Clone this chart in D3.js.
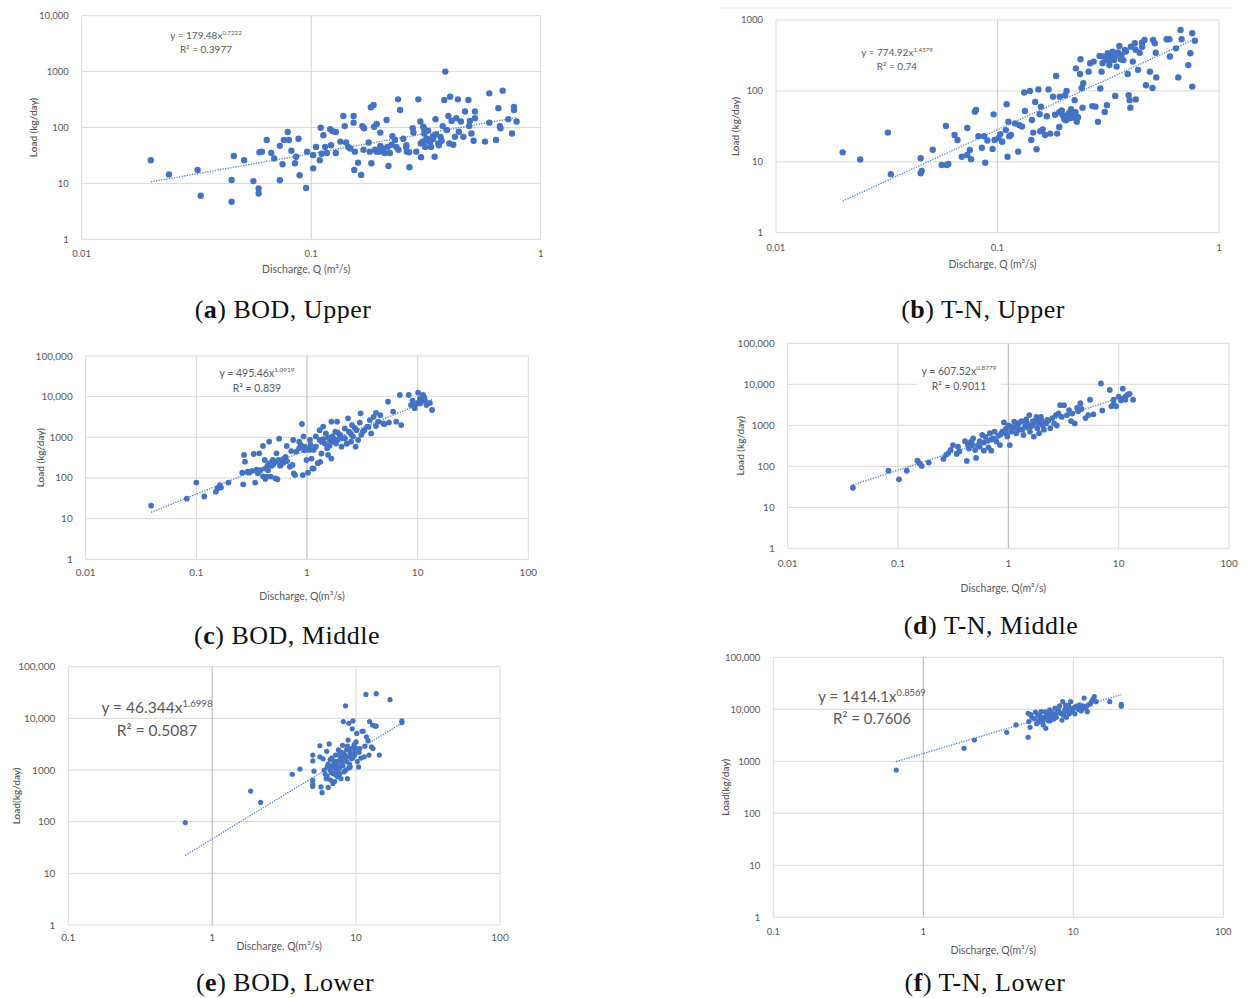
<!DOCTYPE html>
<html>
<head>
<meta charset="utf-8">
<script src="https://cdn.jsdelivr.net/npm/d3@7"></script>
<style>
  body { margin: 0; background: #fff; }
  svg { display: block; }
  .tick-label { font-family: Lato, "Open Sans", sans-serif; font-size: 9.5px; fill: #595959; }
  .axis-title { font-family: Lato, "Open Sans", sans-serif; fill: #595959; }
  .eq { font-family: Lato, "Open Sans", sans-serif; fill: #595959; }
  .caption { font-family: "Liberation Serif", "DejaVu Serif", serif; font-size: 26px; letter-spacing: 0.5px; fill: #111; }
</style>
</head>
<body>
<div id="chart"></div>
<script>
// ---- data: [discharge m3/s, load kg/day] ----
const bodUpper = [[0.02,26],[0.024,14.5],[0.032,17.4],[0.033,6],[0.045,11.5],[0.045,4.7],[0.046,31],[0.051,26],[0.056,11],[0.059,8.1],[0.059,6.6],[0.0595,36],[0.061,37],
  [0.064,60],[0.067,35],[0.069,28],[0.073,47],[0.073,11.4],[0.075,22],[0.076,60],[0.079,83],[0.08,60],[0.082,38.5],[0.085,23],[0.086,30],[0.088,63],[0.089,14],[0.095,8.3],
  [0.096,37],[0.102,32],[0.102,18.6],[0.105,45],[0.109,26],[0.11,99],[0.111,34],[0.113,73],[0.115,45],[0.117,35],[0.121,93],[0.122,48],[0.124,86],[0.128,35],[0.128,83],
  [0.134,56],[0.138,161],[0.14,106],[0.142,54],[0.145,45],[0.148,42],[0.153,161],[0.153,122],[0.154,17.4],[0.155,37],[0.16,23.5],[0.165,14.2],[0.167,106],[0.169,40],
  [0.17,97],[0.178,54],[0.18,37],[0.182,230],[0.183,23],[0.187,253],[0.188,103],[0.193,116],[0.193,37],[0.198,37],[0.2,81],[0.204,42],[0.209,35],[0.213,136],[0.215,45],
  [0.217,20.5],[0.22,35],[0.224,49],[0.226,70],[0.232,60],[0.235,45],[0.239,319],[0.244,206],[0.252,63],[0.259,45],[0.261,37],[0.267,36],[0.268,19.4],[0.277,97],
  [0.279,81],[0.287,37],[0.293,319],[0.299,128],[0.301,29.5],[0.306,56],[0.308,103],[0.311,78],[0.314,45],[0.318,64],[0.323,88],[0.329,60],[0.333,45],[0.339,70],
  [0.345,30],[0.348,141],[0.358,52],[0.366,68],[0.374,106],[0.38,310],[0.384,1000],[0.39,90],[0.396,161],[0.4,52],[0.403,356],[0.409,131],[0.416,49],[0.423,68],
  [0.429,146],[0.436,319],[0.44,84],[0.449,128],[0.46,68],[0.468,193],[0.484,310],[0.488,106],[0.491,131],[0.499,78],[0.51,58],[0.517,193],[0.517,146],[0.572,56],
  [0.597,408],[0.597,122],[0.639,60],[0.654,222],[0.664,106],[0.668,97],[0.683,456],[0.723,141],[0.75,78],[0.765,233],[0.765,206],[0.785,128],
  [0.3,52],[0.32,58],[0.34,62],[0.36,48],[0.31,95],[0.33,55],[0.35,75],[0.37,58],[0.26,48],[0.24,40],[0.19,40],[0.2,47]];

const tnUpper = [[0.02,13.6],[0.024,10.8],[0.032,25.8],[0.033,6.7],[0.045,11.2],[0.045,6.9],[0.0455,7.4],[0.051,14.8],[0.056,9],[0.0585,32],[0.059,9],[0.06,9.3],
  [0.064,23.9],[0.066,20.3],[0.069,11.8],[0.073,30],[0.073,12.5],[0.075,14.7],[0.076,10.9],[0.079,51],[0.08,54],[0.082,23],[0.085,15.8],[0.087,23],[0.088,9.7],
  [0.09,20],[0.095,15.2],[0.096,46.7],[0.097,20.3],[0.101,21.5],[0.103,24.6],[0.105,19.2],[0.109,28],[0.11,65],[0.111,11.8],[0.112,36.8],[0.113,23],[0.115,24],
  [0.12,34.8],[0.124,13.9],[0.125,33],[0.129,31.5],[0.132,95],[0.133,52],[0.14,100],[0.142,20.3],[0.143,38.8],[0.145,25.8],[0.148,70],[0.15,15],[0.153,105],
  [0.155,47],[0.156,27],[0.157,60],[0.16,28.7],[0.164,23.9],[0.167,44],[0.17,105],[0.173,25],[0.178,83],[0.182,46],[0.184,162],[0.186,25],[0.19,31],[0.191,83],
  [0.195,53],[0.197,45.5],[0.202,87],[0.204,38.6],[0.205,100],[0.208,46],[0.212,41],[0.214,53],[0.218,45],[0.223,74],[0.226,208],[0.228,36.6],[0.231,42.6],
  [0.236,173],[0.237,279],[0.24,110],[0.242,58],[0.244,128],[0.258,187],[0.262,245],[0.268,61],[0.272,259],[0.277,60],[0.284,36.6],[0.289,311],[0.291,108],
  [0.295,187],[0.298,245],[0.3,305],[0.305,50.6],[0.31,272],[0.312,63],[0.315,339],[0.32,231],[0.325,305],[0.331,357],[0.336,272],[0.34,85],[0.345,220],
  [0.355,430],[0.363,320],[0.37,272],[0.376,377],[0.387,173],[0.391,87],[0.395,74],[0.398,58],[0.4,421],[0.408,259],[0.417,469],[0.421,75.6],[0.431,198],
  [0.438,346],[0.449,478],[0.461,522],[0.468,120],[0.488,187],[0.501,110],[0.504,522],[0.513,469],[0.518,346],[0.521,155],[0.58,534],[0.597,534],[0.6,305],
  [0.639,398],[0.655,155],[0.67,722],[0.678,534],[0.727,231],[0.742,340],[0.757,649],[0.757,115],[0.778,511],
  [0.21,48],[0.215,55],[0.22,42],[0.225,50],[0.2,40],[0.19,50],[0.31,300],[0.33,290],[0.35,350],[0.32,260],[0.34,310],[0.36,280],[0.38,360],[0.42,380],[0.45,420]];

const bodMiddle = [[0.039,21],[0.082,31],[0.1,77],[0.118,35],[0.15,46],[0.156,56],[0.163,67],[0.167,58],[0.195,77],[0.26,135],[0.265,70],[0.27,368],[0.275,252],
  [0.29,143],[0.3,135],[0.33,389],[0.34,77],[0.355,143],[0.37,404],[0.38,155],[0.4,612],[0.415,277],[0.42,170],[0.43,108],[0.445,155],[0.455,782],[0.47,108],
  [0.48,200],[0.49,277],[0.505,253],[0.517,98],[0.53,404],[0.54,93],[0.55,277],[0.56,927],[0.58,209],[0.6,277],[0.61,238],[0.655,612],[0.7,190],[0.75,860],
  [0.78,118],[0.8,444],[0.85,782],[0.9,2128],[0.915,118],[0.93,1050],[0.955,590],[0.99,277],[1.02,135],[1.05,490],[1.065,860],[1.1,300],[1.12,172],[1.15,490],
  [1.2,1050],[1.2,590],[1.3,1500],[1.3,860],[1.32,250],[1.35,400],[1.4,1840],[1.45,700],[1.48,1250],[1.52,540],[1.55,370],[1.6,860],[1.66,2420],[1.66,300],
  [1.7,1050],[1.8,1380],[1.83,700],[1.87,2420],[1.9,860],[1.97,1150],[2.05,590],[2.1,950],[2.2,1650],[2.28,700],[2.35,2930],[2.4,1380],[2.5,780],[2.55,2000],
  [2.6,1050],[2.75,590],[2.8,1500],[2.9,860],[3.0,2300],[3.05,3900],[3.1,1150],[3.3,1500],[3.5,1840],[3.7,2650],[3.8,1250],[4.0,3200],[4.2,4000],[4.4,2420],
  [4.6,3500],[4.9,2200],[5.4,7500],[6.0,4300],[6.4,2420],[6.9,11000],[7.1,2000],[8.3,11000],[8.7,6200],[9.0,8000],[9.4,5200],[10,7000],[10.1,12500],[10.5,9000],
  [10.8,7500],[11.2,11000],[11.6,8200],[12,6200],[12.9,7000],[13.5,4700],
  [0.3,140],[0.32,150],[0.35,160],[0.36,130],[0.4,110],[0.42,95],[0.44,205],[0.46,230],[0.5,220],[0.52,250],[0.57,200],[0.62,300],[0.64,330],[0.66,260],
  [0.72,460],[0.74,210],[0.76,130],[0.85,540],[0.88,650],[0.95,480],[1.0,520],[1.08,650],[1.15,170],[1.25,230],[1.35,800],[1.4,900],[1.55,1000],[1.6,620],
  [1.7,780],[1.75,920],[1.9,1300],[2.0,1150],[2.2,950],[2.3,700],[2.5,1200],[2.7,1700],[3.2,1400],[3.6,1800],[4.2,1900],[5.0,2100],[5.5,2300],[9.5,6500],
  [10.5,6800],[11.5,9500]];

const tnMiddle = [[0.039,30],[0.082,78],[0.102,48],[0.12,78],[0.15,137],[0.156,119],[0.164,102],[0.19,123],[0.258,151],[0.273,190],[0.285,210],[0.3,250],
  [0.315,330],[0.34,200],[0.36,230],[0.405,410],[0.42,135],[0.43,330],[0.44,270],[0.465,410],[0.48,480],[0.5,250],[0.51,160],[0.53,330],[0.55,410],[0.58,580],
  [0.6,240],[0.62,520],[0.66,290],[0.68,640],[0.7,240],[0.73,480],[0.75,700],[0.78,400],[0.81,550],[0.84,330],[0.88,700],[0.91,1180],[0.95,820],[0.98,530],
  [1.0,1000],[1.03,330],[1.06,700],[1.1,880],[1.13,1220],[1.18,640],[1.22,1050],[1.27,780],[1.31,1270],[1.37,580],[1.42,990],[1.48,1110],[1.55,1780],[1.57,700],
  [1.6,930],[1.67,1270],[1.7,530],[1.8,1600],[1.83,850],[1.87,1270],[1.9,640],[1.97,1600],[2.05,1000],[2.1,780],[2.2,1110],[2.25,1350],[2.4,850],[2.5,1500],
  [2.6,1110],[2.7,1780],[2.75,990],[2.85,1940],[2.95,3100],[3.05,1600],[3.2,3100],[3.4,1780],[3.55,2350],[3.7,1270],[3.8,1940],[4.0,1110],[4.2,2650],[4.3,2200],
  [4.5,3450],[4.6,2500],[5.0,1500],[5.3,1780],[5.5,4200],[5.9,1850],[6.9,10500],[7.1,2300],[8.3,7300],[8.6,2900],[9.0,4200],[9.5,2900],[10,5000],[10.9,7800],
  [11.1,4500],[11.5,4200],[12,5500],[12.5,5800],[13.5,4200],
  [1.05,930],[1.35,800],[1.45,1400],[1.65,1000],[1.75,1200],[0.95,650],[0.7,450],[0.6,380],[0.45,380],[0.55,300],[1.2,800],[1.5,900],[2.0,1300],[11.5,5000],
  [10.5,4000],[9.0,3300],[0.35,300],[0.47,330],[0.65,420],[0.85,600],[1.15,900],[1.25,1150],[1.4,1250],[1.9,1100],[2.3,1300]];

const bodLower = [[0.65,96],[1.85,392],[2.17,237],[3.6,825],[4.07,1045],[5.0,1950],[5.0,1500],[5.1,950],[5.0,630],[5.0,530],[5.0,480],[5.6,2950],[5.6,1800],
  [5.7,470],[5.8,365],[5.9,1650],[6.1,830],[6.2,680],[6.25,2300],[6.3,1150],[6.4,460],[6.5,3200],[6.6,1000],[6.65,640],[6.75,1700],[6.9,860],[6.95,1250],[7.1,600],
  [7.2,1950],[7.3,930],[7.35,1450],[7.45,740],[7.55,2450],[7.65,1080],[7.75,1650],[7.85,680],[7.95,1250],[8.05,3000],[8.15,8650],[8.25,930],[8.4,1950],[8.45,17500],
  [8.6,1450],[8.7,680],[8.8,3800],[8.9,8000],[9.05,2250],[9.1,1150],[9.3,1650],[9.4,6300],[9.5,8900],[9.65,2750],[9.8,1950],[10,3500],[10.1,5100],[10.2,1450],
  [10.4,1150],[10.6,2600],[11,5600],[11.2,5600],[11.4,1800],[11.7,29000],[11.8,4400],[12.1,3700],[12.3,1950],[12.4,8700],[12.8,2800],[13,7400],[13.1,2600],
  [13.5,7100],[13.8,30000],[13.8,7100],[14.5,1950],[17.2,23000],[20.8,8900],[20.8,8300],
  [6.0,1000],[6.3,750],[6.8,1200],[7.0,1500],[7.2,800],[7.5,1100],[7.8,1900],[8.0,1400],[8.2,2100],[8.5,1000],[8.8,1800],[9.0,1300],[9.2,2600],[9.5,1700],
  [9.8,2400],[7.6,2000],[6.7,900],[7.3,1200],[8.3,1700],[9.7,3100],[10.5,2200],[6.9,550],[7.7,850],[8.9,1100],[10.8,1700],[11.5,2900],[6.4,1300],[7.0,1100],
  [7.9,2200],[8.6,2500],[9.3,2000],[6.6,1600],[7.4,1400],[8.1,1200],[8.7,2900],[9.9,2700]];

const tnLower = [[0.66,680],[1.87,1780],[2.19,2570],[3.6,3610],[4.15,5000],[5.0,2900],[5.0,8380],[5.05,5800],[5.15,4500],[5.3,7000],[5.5,6600],[5.7,5300],
  [5.8,7700],[5.95,6200],[6.1,9000],[6.3,5000],[6.4,7000],[6.55,4300],[6.65,8200],[6.8,6000],[6.95,9800],[7.15,6600],[7.3,7700],[7.55,10500],[7.7,7000],
  [7.95,9000],[8.1,11600],[8.4,6200],[8.5,14000],[8.6,7700],[8.8,10000],[9.0,7000],[9.3,11800],[9.4,8200],[9.6,14000],[9.8,9800],[10,10500],[10.25,8200],
  [10.5,11500],[10.8,10000],[11,12200],[11.3,9300],[11.6,11600],[11.8,16500],[12.0,10500],[12.4,9000],[12.6,12200],[13.2,14000],[13.5,15700],[13.8,17500],
  [14.2,14000],[17.5,14000],[20.9,12500],[20.9,11500],
  [5.2,7900],[5.6,8800],[5.9,5700],[6.0,7500],[6.2,6800],[6.5,8900],[6.7,7300],[7.0,6000],[7.2,8800],[7.4,6500],[7.8,8600],[8.0,9400],[8.3,8300],[8.7,8800],
  [9.1,9300],[9.5,10300],[9.9,9000],[10.3,11000],[11.5,10700],[6.3,6100],[6.9,7900],[7.6,8000],[8.9,12000],[12.2,11300],[13.0,12800]];

// fitted power trends as printed on the panels: y = a * x^b
const fitA = [179.48, 774.92, 495.46, 607.52, 46.344, 1414.1];
const fitB = ["0.7222", "1.4379", "1.0919", "0.8779", "1.6998", "0.8569"];
const fitR2 = ["0.3977", "0.74", "0.839", "0.9011", "0.5087", "0.7606"];

const captionLetters = ["a", "b", "c", "d", "e", "f"];
const captionText = [" BOD, Upper", " T-N, Upper", " BOD, Middle", " T-N, Middle", " BOD, Lower", " T-N, Lower"];

const xTicksUpper = [0.01, 0.1, 1];
const xTicksMiddle = [0.01, 0.1, 1, 10, 100];
const xTicksLower = [0.1, 1, 10, 100];
const yTicks3 = [1, 10, 100, 1000];
const yTicks4 = [1, 10, 100, 1000, 10000];
const yTicks5 = [1, 10, 100, 1000, 10000, 100000];

// layout of the six panels (page pixels)
const panels = [
  { data: bodUpper, box: [81.7, 15.7, 540.7, 239.3], xt: xTicksUpper, yt: yTicks4, axisAt: 0.1, axisCol: "#d0d0d0",
    yl: "Load (kg/day)", ylx: 33, xly: 273, xtY: 257, eq: [206, 35], eqSize: 10, r: 3.2, lab: 9.5, cap: [283, 318] },
  { data: tnUpper, box: [776, 20, 1219, 232.7], xt: xTicksUpper, yt: yTicks3, axisAt: 0.1, axisCol: "#d0d0d0",
    yl: "Load (kg/day)", ylx: 735, xly: 268, xtY: 251, eq: [897, 52], eqSize: 10, r: 3.2, lab: 9.5, cap: [983, 318] },
  { data: bodMiddle, box: [85.7, 356, 528.3, 559.3], xt: xTicksMiddle, yt: yTicks5, axisAt: 1, axisCol: "#b3b3b3",
    yl: "Load (kg/day)", ylx: 40, xly: 600, xtY: 576, eq: [257, 373], eqSize: 10.5, r: 2.9, lab: 10, cap: [287, 644] },
  { data: tnMiddle, box: [787.7, 343.3, 1229, 548.3], xt: xTicksMiddle, yt: yTicks5, axisAt: 1, axisCol: "#b3b3b3",
    yl: "Load (kg/day)", ylx: 740, xly: 592, xtY: 567, eq: [959, 371], eqSize: 10.5, r: 2.9, lab: 10, cap: [991, 634], eqBg: true },
  { data: bodLower, box: [68.3, 666.7, 500, 925], xt: xTicksLower, yt: yTicks5, axisAt: 1, axisCol: "#b3b3b3",
    yl: "Load(kg/day)", ylx: 16, xly: 950, xtY: 941, eq: [157, 708], eqSize: 15.5, r: 2.6, lab: 10, cap: [285, 991] },
  { data: tnLower, box: [773.3, 657.3, 1223.3, 917.3], xt: xTicksLower, yt: yTicks5, axisAt: 1, axisCol: "#b3b3b3",
    yl: "Load(kg/day)", ylx: 725, xly: 954, xtY: 935, eq: [872, 697], eqSize: 15, r: 2.6, lab: 9.5, cap: [985, 991] }
];

const width = 1255, height = 998;
const svg = d3.select("#chart").append("svg").attr("width", width).attr("height", height);

const fmtY = d => d >= 10000 ? d3.format(",")(d) : String(d);
const fmtX = d => String(d);

// faint chart-area edge above panel (b)
svg.append("line").attr("x1", 722).attr("x2", 1232).attr("y1", 8).attr("y2", 8)
  .attr("stroke", "#e6e6e6").attr("stroke-width", 1);

panels.forEach((p, i) => {
  const [x0, y0, x1, y1] = p.box;
  const xDom = d3.extent(p.xt), yDom = d3.extent(p.yt);
  const x = d3.scaleLog().domain(xDom).range([x0, x1]);
  const y = d3.scaleLog().domain(yDom).range([y1, y0]);
  const g = svg.append("g");

  // horizontal grid
  g.selectAll(".hg").data(p.yt).join("line")
    .attr("x1", x0).attr("x2", x1).attr("y1", d => y(d)).attr("y2", d => y(d))
    .attr("stroke", "#d9d9d9").attr("stroke-width", 1);
  // vertical grid
  g.selectAll(".vg").data(p.xt).join("line")
    .attr("x1", d => x(d)).attr("x2", d => x(d)).attr("y1", y0).attr("y2", y1)
    .attr("stroke", d => d === p.axisAt ? p.axisCol : "#d9d9d9").attr("stroke-width", 1);

  // tick labels
  g.selectAll(".yl").data(p.yt).join("text").attr("class", "tick-label")
    .attr("x", x0 - 13).attr("y", d => y(d)).attr("dy", "0.35em")
    .attr("text-anchor", "end").style("font-size", p.lab + "px").text(fmtY);
  g.selectAll(".xl").data(p.xt).join("text").attr("class", "tick-label")
    .attr("x", d => x(d)).attr("y", p.xtY).attr("text-anchor", "middle")
    .style("font-size", p.lab + "px").text(fmtX);

  // axis titles
  g.append("text").attr("class", "axis-title")
    .attr("x", (x0 + x1) / 2 - 5).attr("y", p.xly).attr("text-anchor", "middle")
    .style("font-size", "10.5px")
    .text(i >= 2 ? "Discharge, Q(m³/s)" : "Discharge, Q (m³/s)");
  g.append("text").attr("class", "axis-title")
    .attr("transform", `translate(${p.ylx},${(y0 + y1) / 2}) rotate(-90)`)
    .attr("text-anchor", "middle").attr("dy", "0.35em")
    .style("font-size", "10px").style("font-weight", 600).text(p.yl);

  // power-law trend line
  const ext = d3.extent(p.data, d => d[0]);
  const b = +fitB[i];
  const trend = [ext[0], ext[1]].map(v => [v, fitA[i] * Math.pow(v, b)]);
  g.append("line")
    .attr("x1", x(trend[0][0])).attr("y1", y(trend[0][1]))
    .attr("x2", x(trend[1][0])).attr("y2", y(trend[1][1]))
    .attr("stroke", "#5b86d1").attr("stroke-width", 1.4).attr("stroke-dasharray", "1.3,1.3");

  // points
  g.selectAll("circle").data(p.data).join("circle")
    .attr("cx", d => x(d[0])).attr("cy", d => y(d[1])).attr("r", p.r)
    .attr("fill", "#4472c4");

  // equation
  const [ex, ey] = p.eq;
  const fs = p.eqSize;
  if (p.eqBg) {
    g.append("rect").attr("x", ex - 42).attr("y", ey - 10).attr("width", 84).attr("height", 28).attr("fill", "#fff");
  }
  const e1 = g.append("text").attr("class", "eq").attr("x", ex).attr("y", ey + fs * 0.35)
    .attr("text-anchor", "middle").style("font-size", fs + "px");
  e1.append("tspan").text("y = " + fitA[i] + "x");
  e1.append("tspan").attr("dy", -fs * 0.4).style("font-size", (fs * 0.62) + "px").text(fitB[i]);
  g.append("text").attr("class", "eq").attr("x", ex).attr("y", ey + fs * 1.45 + fs * 0.35)
    .attr("text-anchor", "middle").style("font-size", fs + "px").text("R² = " + fitR2[i]);

  // caption
  const c = svg.append("text").attr("class", "caption").attr("x", p.cap[0]).attr("y", p.cap[1])
    .attr("text-anchor", "middle");
  c.append("tspan").text("(");
  c.append("tspan").style("font-weight", "bold").text(captionLetters[i]);
  c.append("tspan").text(")" + captionText[i]);
});
</script>
</body>
</html>
